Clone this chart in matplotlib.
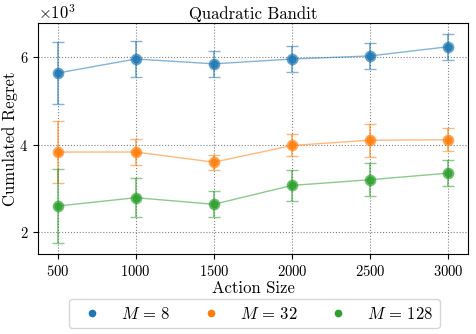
import numpy as np
import matplotlib
matplotlib.use("Agg")
import matplotlib.pyplot as plt
from matplotlib.ticker import MultipleLocator

plt.rcParams['font.family'] = ['cmr10']
plt.rcParams['mathtext.fontset'] = 'cm'
plt.rcParams['axes.formatter.use_mathtext'] = True
plt.rcParams['axes.unicode_minus'] = False

# ----- Data -----
action_sizes = [500, 1000, 1500, 2000, 2500, 3000]
labels = [r"$M\,=\,8$", r"$M\,=\,32$", r"$M\,=\,128$"]

regret_m8 = [5630, 5950, 5840, 5950, 6020, 6230]
err_m8 = [700, 420, 300, 300, 290, 300]

regret_m32 = [3830, 3830, 3600, 3980, 4100, 4110]
err_m32 = [710, 300, 170, 250, 380, 260]

regret_m128 = [2600, 2790, 2640, 3070, 3200, 3350]
err_m128 = [850, 450, 300, 350, 370, 300]

colors = ['#1f77b4', '#ff7f0e', '#2ca02c']

# ----- Plot -----
fig, ax = plt.subplots(figsize=(4.76, 3.34), dpi=100)

series = [(regret_m8, err_m8), (regret_m32, err_m32), (regret_m128, err_m128)]
handles = []
for (vals, errs), color, label in zip(series, colors, labels):
    ax.errorbar(action_sizes, vals, yerr=errs, color=color, alpha=0.55,
                marker='o', markersize=7.5, lw=1.0, capsize=4, elinewidth=1.4, capthick=1.0)
    ax.plot(action_sizes, vals, 'o', color=color, markersize=5, alpha=0.8)
    h, = ax.plot([], [], 'o', color=color, markersize=4.5, ls='none', label=label)
    handles.append(h)

ax.yaxis.set_major_locator(MultipleLocator(2000))
ax.ticklabel_format(axis='y', style='sci', scilimits=(3, 3))
ax.grid(True, ls=':', color='gray', lw=0.8)
ax.tick_params(labelsize=10.5)
ax.yaxis.get_offset_text().set_fontsize(12)

ax.set_title("Quadratic Bandit", fontsize=12, pad=3)
ax.set_xlabel("Action Size", fontsize=12, labelpad=1.5)
ax.set_ylabel("Cumulated Regret", fontsize=12, labelpad=1)

fig.legend(handles=handles, loc='center', bbox_to_anchor=(0.534, 0.061),
           bbox_transform=fig.transFigure, ncol=3, fontsize=12,
           handletextpad=0.75, columnspacing=1.4, borderpad=0.4, handlelength=2.0)

fig.subplots_adjust(left=0.08, right=0.983, top=0.931, bottom=0.24)
fig.savefig("out.png", dpi=100)
